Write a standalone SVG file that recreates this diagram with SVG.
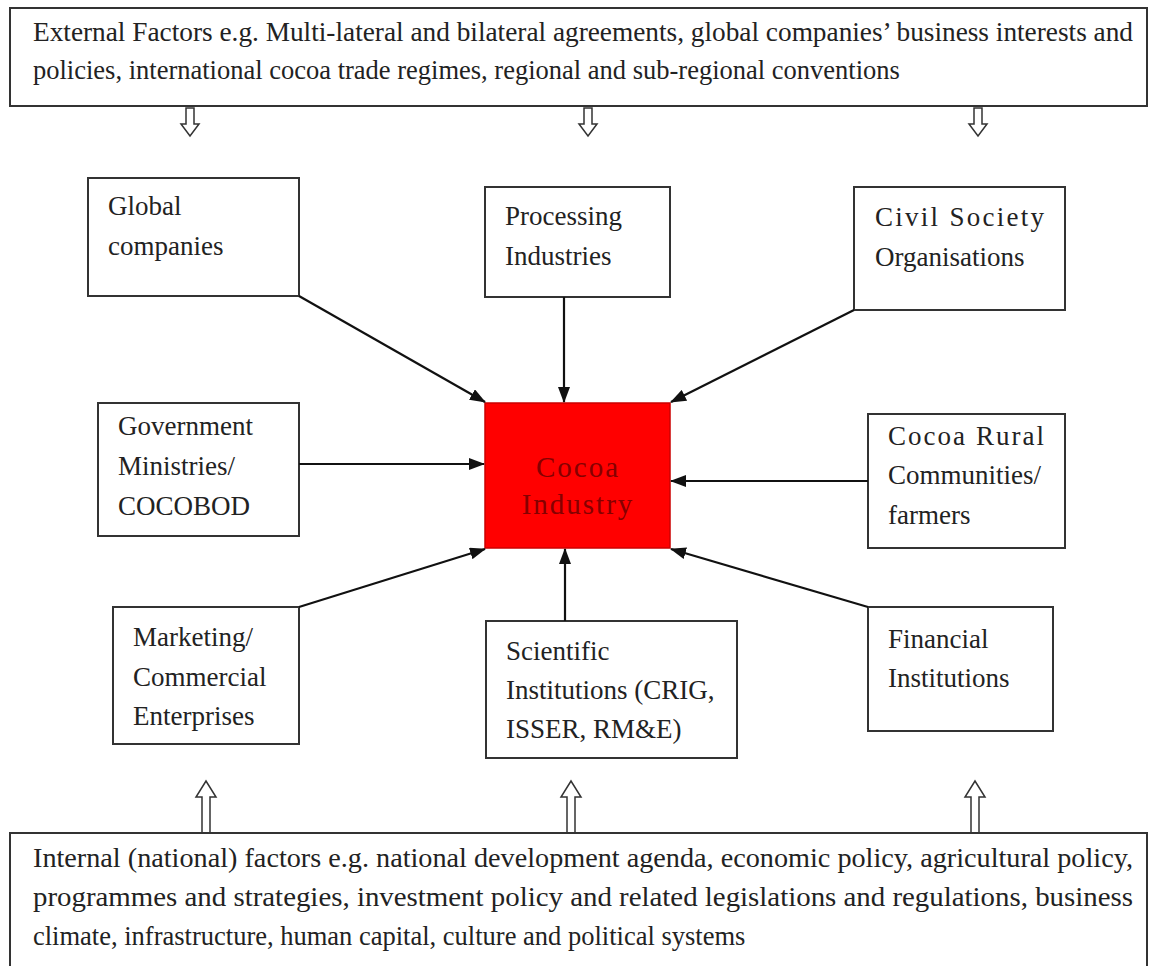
<svg xmlns="http://www.w3.org/2000/svg" width="1154" height="966" viewBox="0 0 1154 966">
<defs>
<style>
.box{fill:#fff;stroke:#333;stroke-width:2}
.t{font-family:"Liberation Serif","Times New Roman",serif;font-size:27px;fill:#222}
.big{font-family:"Liberation Serif","Times New Roman",serif;font-size:26.5px;fill:#222}
.c{stroke:#111;stroke-width:2.2;fill:none;marker-end:url(#ah)}
.hol{fill:#fff;stroke:#333;stroke-width:1.5}
.ci{font-family:"Liberation Serif","Times New Roman",serif;font-size:29px;letter-spacing:2px;fill:#850000}
</style>
<marker id="ah" viewBox="0 0 16 12" refX="15" refY="6" markerWidth="16" markerHeight="12" markerUnits="userSpaceOnUse" orient="auto">
<path d="M0,0 L16,6 L0,12 Z" fill="#111"/>
</marker>
</defs>
<rect width="1154" height="966" fill="#fff"/>

<g id="external">
<rect class="box" x="10" y="8" width="1137" height="98"/>
<text class="big" x="33" y="41" textLength="1100" lengthAdjust="spacingAndGlyphs">External Factors e.g. Multi-lateral and bilateral agreements, global companies’ business interests and</text>
<text class="big" x="33" y="79">policies, international cocoa trade regimes, regional and sub-regional conventions</text>
</g>

<g id="hollow-arrows">
<path class="hol" d="M186,108 V124 H181 L190,136 L199,124 H194 V108 Z"/>
<path class="hol" d="M584,108 V124 H579 L588,136 L597,124 H592 V108 Z"/>
<path class="hol" d="M974,108 V124 H969 L978,136 L987,124 H982 V108 Z"/>
<path class="hol" d="M202,833 V797 H196 L206,781 L216,797 H210 V833 Z"/>
<path class="hol" d="M567,833 V797 H561 L571,781 L581,797 H575 V833 Z"/>
<path class="hol" d="M971,833 V797 H965 L975,781 L985,797 H979 V833 Z"/>
</g>

<g id="global">
<rect class="box" x="88" y="178" width="211" height="118"/>
<text class="t" x="108" y="215">Global</text>
<text class="t" x="108" y="255">companies</text>
</g>

<g id="processing">
<rect class="box" x="485" y="187" width="185" height="110"/>
<text class="t" x="505" y="225">Processing</text>
<text class="t" x="505" y="265">Industries</text>
</g>

<g id="civil">
<rect class="box" x="854" y="187" width="211" height="123"/>
<text class="t" x="875" y="226" textLength="169" lengthAdjust="spacing">Civil Society</text>
<text class="t" x="875" y="266">Organisations</text>
</g>

<g id="government">
<rect class="box" x="98" y="403" width="201" height="133"/>
<text class="t" x="118" y="435">Government</text>
<text class="t" x="118" y="475">Ministries/</text>
<text class="t" x="118" y="515">COCOBOD</text>
</g>

<g id="cocoa-industry">
<rect x="485" y="403" width="185" height="145" fill="#f00" stroke="#c00" stroke-width="1.5"/>
<text class="ci" x="578" y="477" text-anchor="middle">Cocoa</text>
<text class="ci" x="578" y="514" text-anchor="middle">Industry</text>
</g>

<g id="rural">
<rect class="box" x="868" y="414" width="197" height="134"/>
<text class="t" x="888" y="445" textLength="156" lengthAdjust="spacing">Cocoa Rural</text>
<text class="t" x="888" y="484">Communities/</text>
<text class="t" x="888" y="524">farmers</text>
</g>

<g id="marketing">
<rect class="box" x="113" y="607" width="186" height="137"/>
<text class="t" x="133" y="646">Marketing/</text>
<text class="t" x="133" y="686">Commercial</text>
<text class="t" x="133" y="725">Enterprises</text>
</g>

<g id="scientific">
<rect class="box" x="486" y="621" width="251" height="137"/>
<text class="t" x="506" y="660">Scientific</text>
<text class="t" x="506" y="699">Institutions (CRIG,</text>
<text class="t" x="506" y="738">ISSER, RM&amp;E)</text>
</g>

<g id="financial">
<rect class="box" x="868" y="607" width="185" height="124"/>
<text class="t" x="888" y="648">Financial</text>
<text class="t" x="888" y="687">Institutions</text>
</g>

<g id="internal">
<path class="box" d="M10,966 V833 H1147 V966"/>
<text class="big" x="33" y="867" textLength="1100" lengthAdjust="spacingAndGlyphs">Internal (national) factors e.g. national development agenda, economic policy, agricultural policy,</text>
<text class="big" x="33" y="906" textLength="1100" lengthAdjust="spacingAndGlyphs">programmes and strategies, investment policy and related legislations and regulations, business</text>
<text class="big" x="33" y="945">climate, infrastructure, human capital, culture and political systems</text>
</g>

<g id="connectors">
<line class="c" x1="299" y1="296" x2="485" y2="402"/>
<line class="c" x1="564" y1="297" x2="564" y2="402"/>
<line class="c" x1="854" y1="310" x2="671" y2="402"/>
<line class="c" x1="299" y1="464" x2="484" y2="464"/>
<line class="c" x1="868" y1="481" x2="671" y2="481"/>
<line class="c" x1="299" y1="607" x2="485" y2="549"/>
<line class="c" x1="565" y1="621" x2="565" y2="549"/>
<line class="c" x1="868" y1="607" x2="671" y2="549"/>
</g>
</svg>
